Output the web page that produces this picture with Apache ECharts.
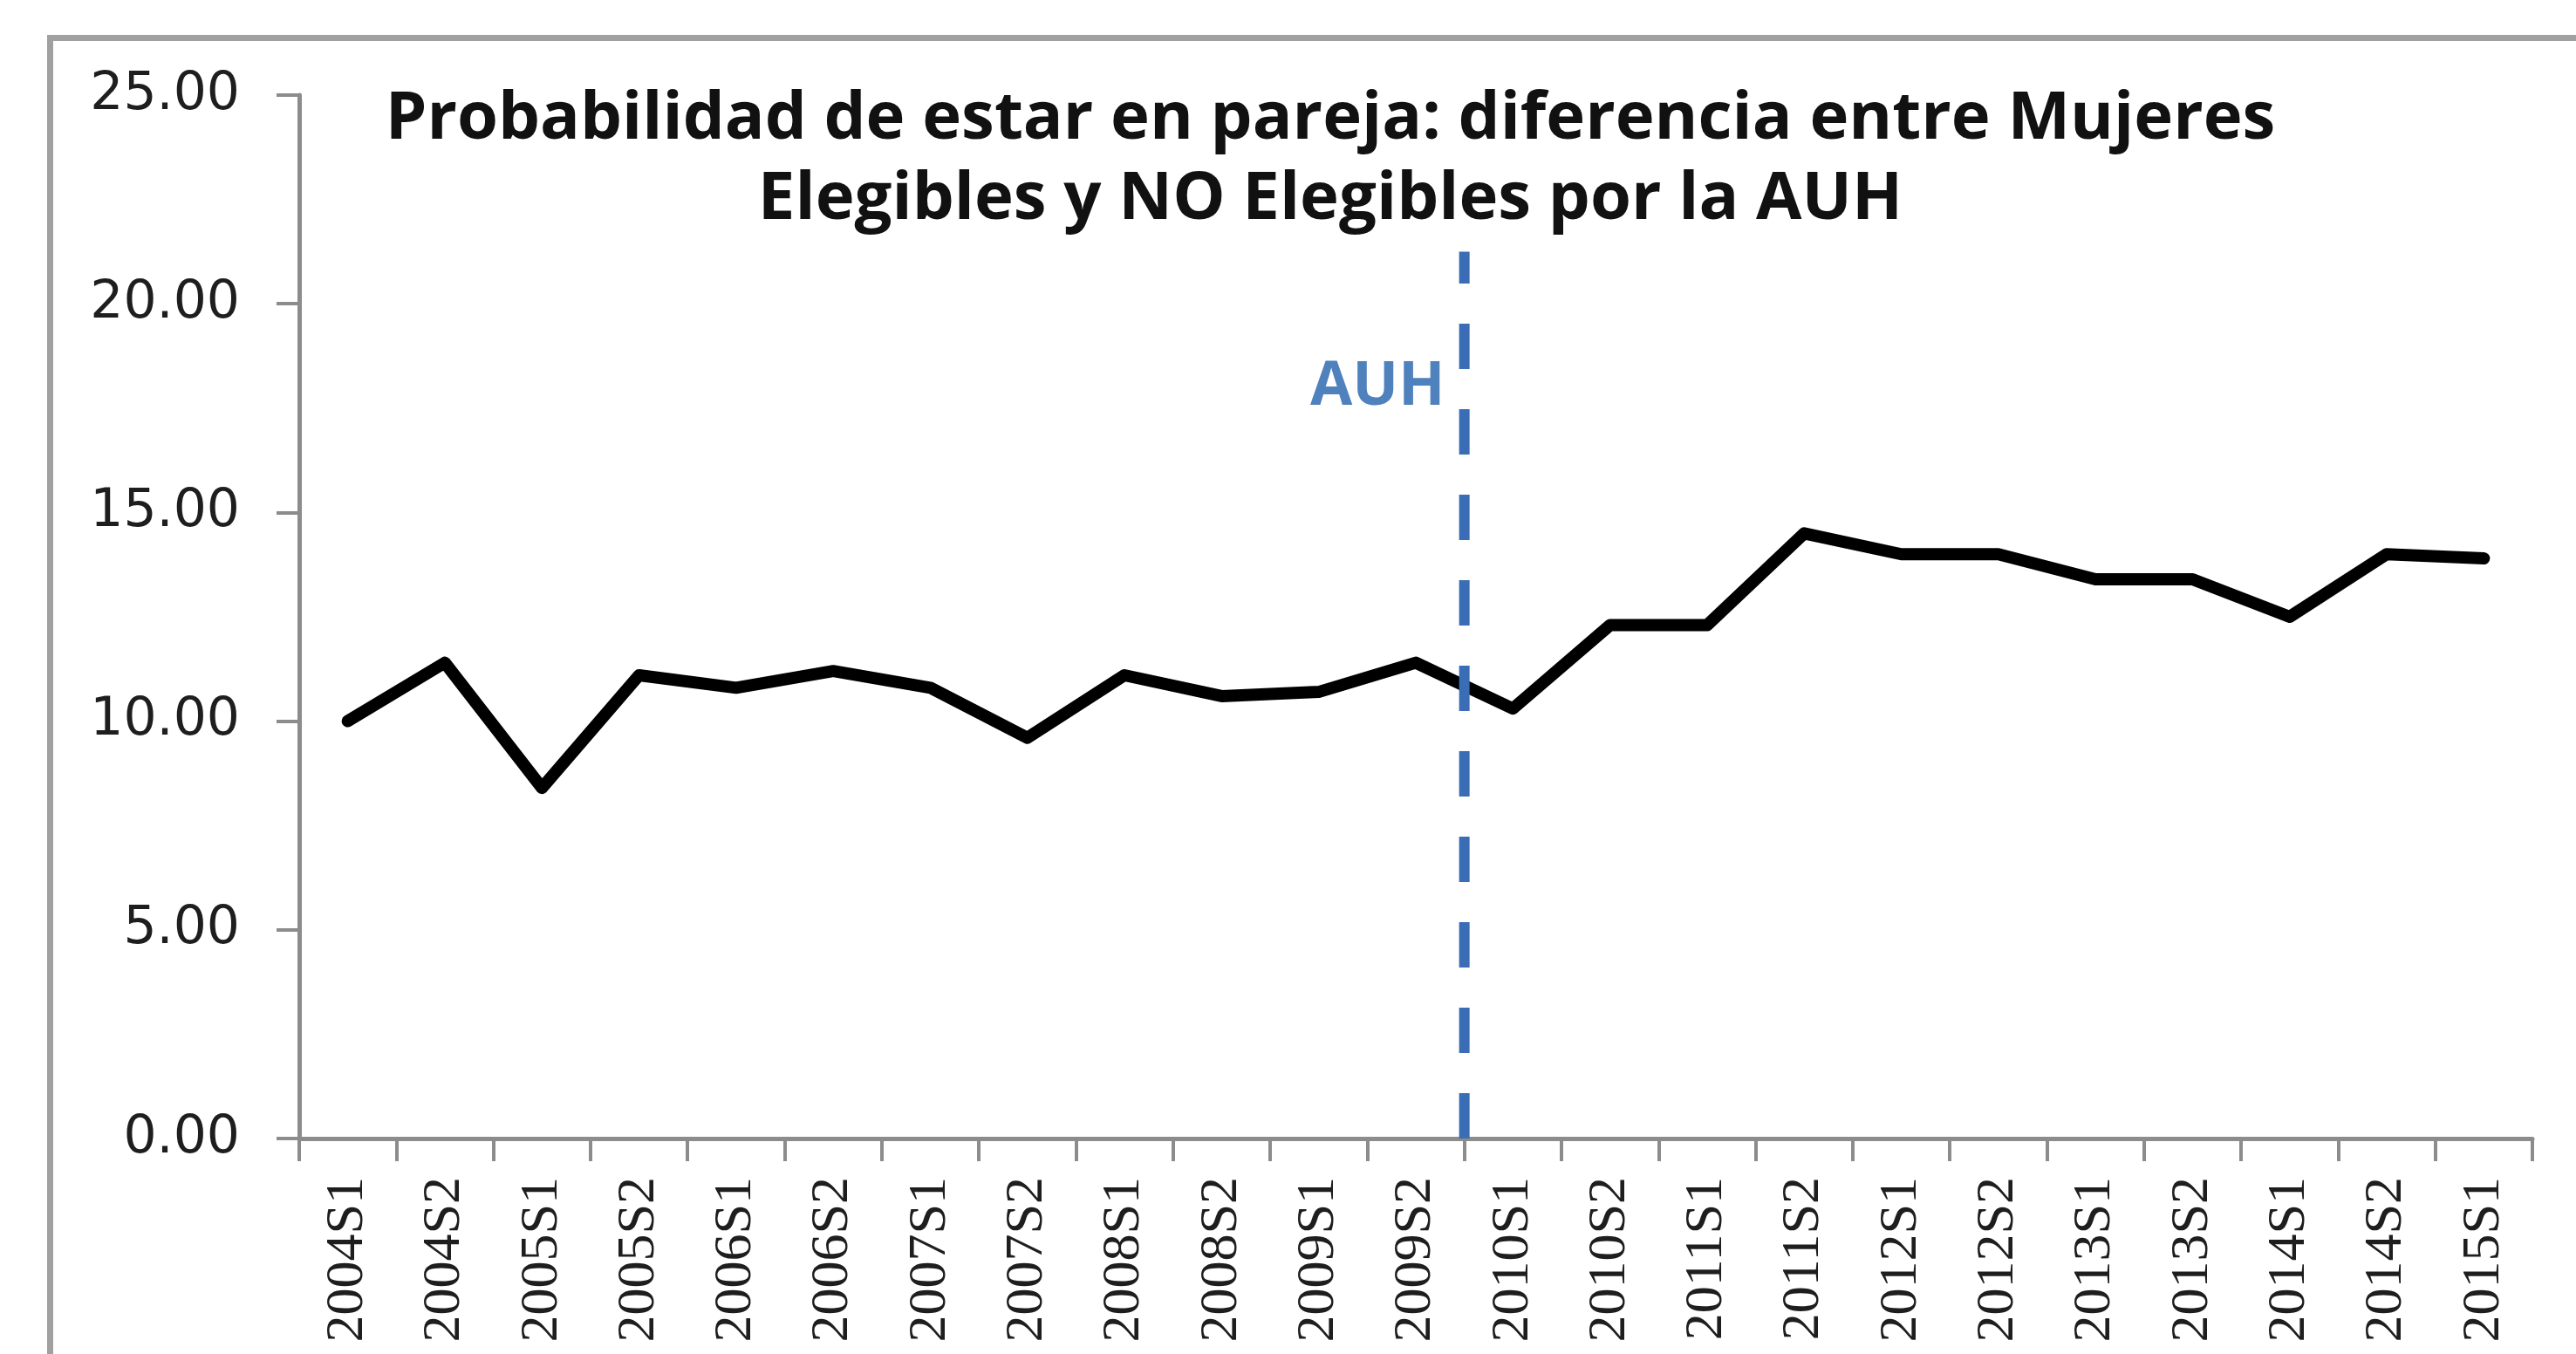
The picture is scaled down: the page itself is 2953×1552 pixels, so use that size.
<!DOCTYPE html>
<html>
<head>
<meta charset="utf-8">
<title>Probabilidad de estar en pareja</title>
<script src="https://cdn.jsdelivr.net/npm/echarts@6.0.0/dist/echarts.min.js"></script>
<style>
  html, body { margin: 0; padding: 0; background: #fff; }
  #chart { width: 2953px; height: 1552px; }
</style>
</head>
<body>
<div id="chart"></div>
<script>
/** @type {string[]} Semesters on the x axis. */
const SEMESTERS = [
  '2004S1', '2004S2', '2005S1', '2005S2', '2006S1', '2006S2',
  '2007S1', '2007S2', '2008S1', '2008S2', '2009S1', '2009S2',
  '2010S1', '2010S2', '2011S1', '2011S2', '2012S1', '2012S2',
  '2013S1', '2013S2', '2014S1', '2014S2', '2015S1'
]

/** @type {number[]} Difference (pp) between eligible and non-eligible women. */
const DIFFERENCE = [
  10.0, 11.4, 8.4, 11.1, 10.8, 11.2,
  10.8, 9.6, 11.1, 10.6, 10.7, 11.4,
  10.3, 12.3, 12.3, 14.5, 14.0, 14.0,
  13.4, 13.4, 12.5, 14.0, 13.9
]

/** @type {number[]} Y axis range and step: min, max, interval. */
const Y_TICKS = [0, 25, 5]

/** @type {number} AUH starts at the boundary before 2010S1 (category index 12). */
const AUH_START = 12

/** @type {number[]} Vertical span of the AUH marker line, in y units. */
const AUH_SPAN = [0, 21.25]

/** @type {number} Height of the AUH label, in y units. */
const AUH_LABEL_Y = 18

/** @type {string} */
const TITLE = 'Probabilidad de estar en pareja: diferencia entre Mujeres\nElegibles y NO Elegibles por la AUH'

const AXIS_COLOR = '#8c8c8c'
const LABEL_COLOR = '#1e1e1e'
const AUH_COLOR = '#3a6db5'

const buildOption = () => ({
  animation: false,
  backgroundColor: '#ffffff',
  title: {
    text: TITLE,
    left: 1520,
    top: 86,
    textAlign: 'center',
    textStyle: {
      fontFamily: 'Open Sans',
      fontWeight: 'bold',
      fontSize: 76,
      lineHeight: 92,
      color: '#111111'
    }
  },
  graphic: [
    {
      // outer frame of the pasted chart, cut at the right and bottom
      type: 'rect',
      left: 54,
      top: 40,
      shape: { width: 3200, height: 2000 },
      style: { fill: 'none', stroke: '#a0a0a0', lineWidth: 7 },
      silent: true
    }
  ],
  grid: { left: 343, right: 50, top: 109, bottom: 247, containLabel: false },
  xAxis: [
    {
      type: 'category',
      data: SEMESTERS,
      boundaryGap: true,
      axisLine: { lineStyle: { color: AXIS_COLOR, width: 5 } },
      axisTick: { show: true, length: 26, lineStyle: { color: AXIS_COLOR, width: 4 } },
      axisLabel: {
        interval: 0,
        rotate: 90,
        margin: 44,
        fontFamily: 'Liberation Sans Narrow',
        fontSize: 62,
        color: LABEL_COLOR
      },
      splitLine: { show: false }
    },
    {
      // hidden helper axis so the AUH marker sits on a category boundary
      type: 'value',
      min: 0,
      max: SEMESTERS.length,
      show: false
    }
  ],
  yAxis: {
    type: 'value',
    min: Y_TICKS[0],
    max: Y_TICKS[1],
    interval: Y_TICKS[2],
    axisLine: { show: true, lineStyle: { color: AXIS_COLOR, width: 5 } },
    axisTick: { show: true, length: 26, lineStyle: { color: AXIS_COLOR, width: 4 } },
    axisLabel: {
      margin: 68,
      fontFamily: 'DejaVu Sans',
      fontSize: 60,
      color: LABEL_COLOR,
      formatter: (v) => v.toFixed(2)
    },
    splitLine: { show: false }
  },
  series: [
    {
      name: 'Diferencia',
      type: 'line',
      data: DIFFERENCE,
      symbol: 'none',
      z: 3,
      lineStyle: { color: '#000000', width: 14, join: 'round', cap: 'round' }
    },
    {
      name: 'AUH',
      type: 'line',
      xAxisIndex: 1,
      data: AUH_SPAN.map(y => [AUH_START, y]),
      symbol: 'none',
      z: 4,
      lineStyle: { color: AUH_COLOR, width: 12, type: [52, 46] }
    },
    {
      name: 'AUH label',
      type: 'scatter',
      xAxisIndex: 1,
      data: [[AUH_START, AUH_LABEL_Y]],
      symbolSize: 0,
      label: {
        show: true,
        position: 'left',
        distance: 22,
        formatter: 'AUH',
        fontFamily: 'Open Sans',
        fontWeight: 'bold',
        fontSize: 70,
        color: '#2361ad'
      }
    }
  ]
})

const chart = echarts.init(document.getElementById('chart'), null, { renderer: 'canvas' })
chart.setOption(buildOption())
</script>
</body>
</html>
